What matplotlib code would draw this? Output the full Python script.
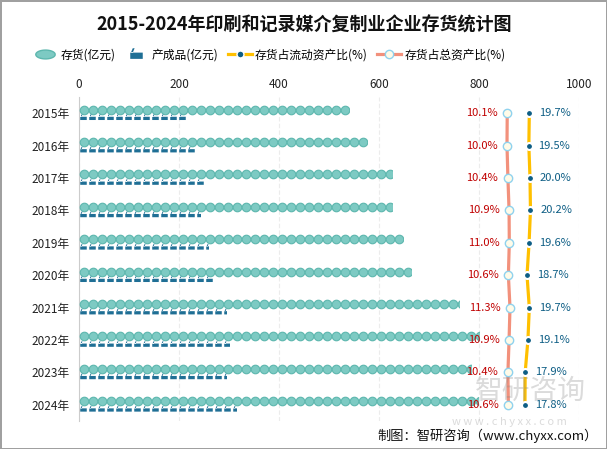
import numpy as np
import matplotlib
matplotlib.use("Agg")
import matplotlib.pyplot as plt
from matplotlib.path import Path
from matplotlib.lines import Line2D

plt.rcParams['font.family'] = ['Noto Sans CJK SC', 'DejaVu Sans']

years = ['2015年', '2016年', '2017年', '2018年', '2019年', '2020年', '2021年', '2022年', '2023年', '2024年']
inventory = [540, 576, 626, 626, 648, 664, 760, 800, 784, 798]
finished = [216, 234, 252, 244, 260, 270, 296, 302, 296, 316]
ratio_current = [19.7, 19.5, 20.0, 20.2, 19.6, 18.7, 19.7, 19.1, 17.9, 17.8]
ratio_total = [10.1, 10.0, 10.4, 10.9, 11.0, 10.6, 11.3, 10.9, 10.4, 10.6]
xticks = [0, 200, 400, 600, 800, 1000]

W, H = 607, 449
fig = plt.figure(figsize=(W / 100, H / 100), dpi=100)
fig.patch.set_facecolor('white')
fig.patch.set_edgecolor('#a0a0a0')
fig.patch.set_linewidth(2)

ax = fig.add_axes([79 / W, 1 - 421 / H, 500 / W, 324 / H])
ax2 = ax.twiny()

ax.set_xlim(0, 1000)
ax.set_ylim(len(years) - 0.5, -0.5)
for a in (ax, ax2):
    for s in ['top', 'right', 'bottom']:
        a.spines[s].set_visible(False)
ax.spines['left'].set_color('#cccccc')
ax2.spines['left'].set_visible(False)
ax.xaxis.tick_top()
ax.xaxis.set_label_position('top')
ax.set_xticks(xticks)
ax.set_xticklabels([str(t) for t in xticks], fontsize=8.5, color='#222222')
ax.tick_params(axis='x', length=0, pad=4, top=True, bottom=False, labeltop=True, labelbottom=False)
ax.set_yticks(range(len(years)))
ax.set_yticklabels(years, fontsize=8.5, color='#222222')
ax.tick_params(axis='y', length=0, pad=7)
ax.grid(axis='x', color='#ececec', linewidth=0.8, linestyle=(0, (4, 2)))
ax.set_axisbelow(True)

# finished-goods icon marker
fg_verts = [(-0.5, -0.35), (0.5, -0.35), (0.5, 0.15), (-0.5, 0.15), (-0.5, -0.35),
            (-0.45, 0.15), (-0.3, 0.5), (-0.15, 0.5), (-0.3, 0.15), (-0.45, 0.15)]
fg_codes = [Path.MOVETO, Path.LINETO, Path.LINETO, Path.LINETO, Path.CLOSEPOLY,
            Path.MOVETO, Path.LINETO, Path.LINETO, Path.LINETO, Path.CLOSEPOLY]
fg_marker = Path(fg_verts, fg_codes)

step = 18.0
for i, (inv, fg) in enumerate(zip(inventory, finished)):
    yc = i - 0.11
    clip = ax.barh(yc, inv, height=0.32, color='none', edgecolor='none')[0]
    xs = np.arange(step / 2, inv + step, step)
    sc = ax.scatter(xs, np.full_like(xs, yc), s=38, marker='o', facecolor='#7dcac3',
                    edgecolor='#5db7ae', linewidth=0.8, zorder=3)
    sc.set_clip_path(clip)
    yf = i + 0.14
    clip2 = ax.barh(yf, fg, height=0.3, color='none', edgecolor='none')[0]
    xs2 = np.arange(step / 2, fg + step, step)
    sc2 = ax.scatter(xs2, np.full_like(xs2, yf), s=22, marker=fg_marker, facecolor='#1f6f95',
                     edgecolor='none', zorder=3)
    sc2.set_clip_path(clip2)

# ratio lines on a secondary x scale
ax2.set_xlim((79 - 484) / 2.3, (579 - 484) / 2.3)
ax2.set_ylim(len(years) - 0.5, -0.5)
ax2.set_xticks([])
ax2.tick_params(axis='x', length=0, labeltop=False, labelbottom=False)
ypos = np.arange(len(years))
ax2.plot(ratio_total, ypos, color='#f2917c', lw=2.3, zorder=4,
         marker='o', ms=6, mfc='#fffbe8', mec='#8fd2ee', mew=1.0)
ax2.plot(ratio_current, ypos, color='#ffc000', lw=2.3, zorder=4,
         marker='o', ms=5, mfc='#0e5e85', mec='white', mew=1.5)
for y, v in zip(ypos, ratio_total):
    ax2.annotate(f'{v:.1f}%', (v, y), xytext=(-7, 0), textcoords='offset points',
                 ha='right', va='center', fontsize=8, color='#c00000', zorder=5)
for y, v in zip(ypos, ratio_current):
    ax2.annotate(f'{v:.1f}%', (v, y), xytext=(7, 0), textcoords='offset points',
                 ha='left', va='center', fontsize=8, color='#0e5e85', zorder=5)

# title
fig.text(304 / W, 1 - 25 / H, '2015-2024年印刷和记录媒介复制业企业存货统计图', ha='center', va='center',
         fontsize=13, fontweight='bold', color='#111111')

# legend
th = np.linspace(0, 2 * np.pi, 40)
ell = Path(np.column_stack([2.2 * np.cos(th), np.sin(th)]))
handles = [
    Line2D([], [], ls='none', marker=ell, ms=14, mfc='#7dcac3', mec='#5db7ae'),
    Line2D([], [], ls='none', marker=fg_marker, ms=9, mfc='#1f6f95', mec='none'),
    Line2D([], [], color='#ffc000', lw=2.3, marker='o', ms=5, mfc='#0e5e85', mec='white', mew=1),
    Line2D([], [], color='#f2917c', lw=2.3, marker='o', ms=6, mfc='#fffbe8', mec='#8fd2ee', mew=1),
]
labels = ['存货(亿元)', '产成品(亿元)', '存货占流动资产比(%)', '存货占总资产比(%)']
fig.legend(handles, labels, loc='center left', bbox_to_anchor=(33 / W, 1 - 55 / H), ncol=4,
           frameon=False, fontsize=8.5, handlelength=2.0, handletextpad=0.3, columnspacing=0.8,
           borderaxespad=0, borderpad=0)

# watermark
fig.text(530 / W, 1 - 391 / H, '智研咨询', ha='center', va='center', fontsize=20,
         color='#888888', alpha=0.3)
fig.text(509 / W, 1 - 422 / H, 'w w w . c h y x x . c o m', ha='center', va='center', fontsize=8,
         color='#888888', alpha=0.3)

# footer
fig.text(598 / W, 1 - 436 / H, '制图：智研咨询（www.chyxx.com）', ha='right', va='center',
         fontsize=9.5, color='#111111')

fig.savefig('out.png', dpi=100)
